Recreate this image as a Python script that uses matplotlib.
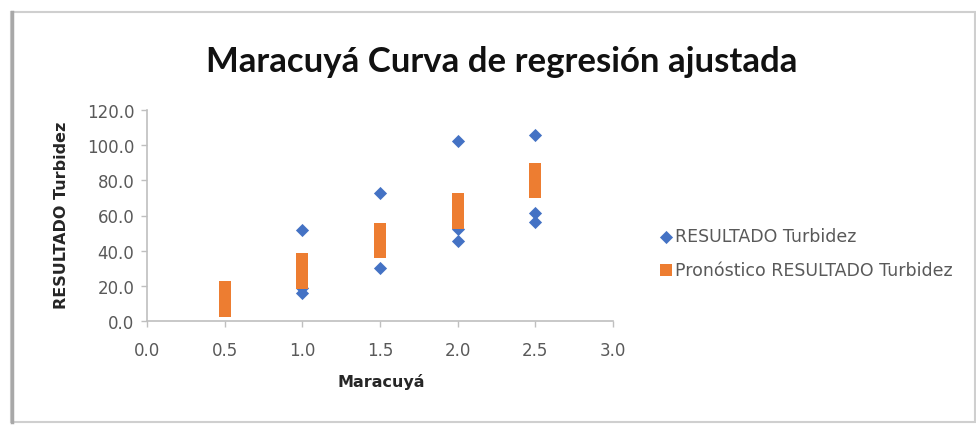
import matplotlib
matplotlib.use("Agg")
import matplotlib.pyplot as plt
from matplotlib.patches import Rectangle

# ---- data ----
obs_x = [1.0, 1.0, 1.0, 1.5, 1.5, 2.0, 2.0, 2.0, 2.5, 2.5, 2.5]
obs_y = [51.6, 16.1, 19.1, 72.9, 30.2, 102.4, 52.4, 45.7, 105.5, 61.4, 56.5]

pred_x = [0.5] * 5 + [1.0] * 5 + [1.5] * 5 + [2.0] * 5 + [2.5] * 5
pred_y = [6.0, 9.3, 12.6, 16.0, 19.3,
          21.9, 25.3, 28.7, 32.1, 35.5,
          39.5, 42.7, 45.8, 49.0, 52.2,
          55.9, 59.2, 62.5, 65.9, 69.2,
          73.5, 76.7, 79.8, 83.0, 86.2]

title = "Maracuyá Curva de regresión ajustada"
xlabel = "Maracuyá"
ylabel = "RESULTADO Turbidez"
label_obs = "RESULTADO Turbidez"
label_pred = "Pronóstico RESULTADO Turbidez"
xticks = [0.0, 0.5, 1.0, 1.5, 2.0, 2.5, 3.0]
yticks = [0, 20, 40, 60, 80, 100, 120]

BLUE = "#4472C4"
ORANGE = "#ED7D31"
GRAY = "#595959"
AXIS = "#BFBFBF"

W, H = 976, 427
fig = plt.figure(figsize=(W / 100, H / 100), dpi=100)
fig.patch.set_facecolor("white")

# chart frame
fig.patches.append(Rectangle((11 / W, 1 - 423 / H), (975 - 11) / W, (423 - 13) / H,
                             transform=fig.transFigure, fill=False,
                             edgecolor="#CFCFCF", linewidth=1.5))
fig.add_artist(plt.Line2D([11.5 / W, 11.5 / W], [1 - 423 / H, 1 - 13 / H],
                          transform=fig.transFigure, color="#A8A8A8", linewidth=2.5))

ax = fig.add_axes([147 / W, 1 - 322.3 / H, (613 - 147) / W, (322.3 - 110.7) / H])
ax.scatter(obs_x, obs_y, marker="D", s=45, color=BLUE, label=label_obs, zorder=3,
           linewidths=0)
ax.scatter(pred_x, pred_y, marker="s", s=80, color=ORANGE, label=label_pred, zorder=4,
           linewidths=0)

ax.set_xlim(0, 3.0)
ax.set_ylim(0, 120)
ax.set_xticks(xticks)
ax.set_yticks(yticks)
ax.set_xticklabels([f"{v:.1f}" for v in xticks])
ax.set_yticklabels([f"{v:.1f}" for v in yticks])
for s in ["top", "right"]:
    ax.spines[s].set_visible(False)
for s in ["left", "bottom"]:
    ax.spines[s].set_color(AXIS)
    ax.spines[s].set_linewidth(1.2)
ax.tick_params(axis="both", colors=AXIS, labelcolor=GRAY, labelsize=12,
               length=4, width=1.0, direction="out")
ax.tick_params(axis="x", pad=10)
ax.tick_params(axis="y", pad=5)

fig.text(502 / W, 1 - 62 / H, title, ha="center", va="center",
         fontsize=25, fontweight="bold", color="#111111", family="Lato")
fig.text(381 / W, 1 - 382 / H, xlabel, ha="center", va="center",
         fontsize=11.5, fontweight="bold", color="#262626")
fig.text(62 / W, 1 - 215 / H, ylabel, ha="center", va="center", rotation=90,
         fontsize=11.5, fontweight="bold", color="#262626")

leg = fig.legend(loc="center left", bbox_to_anchor=(657 / W, 1 - 254 / H),
                 frameon=False, fontsize=12.5, handletextpad=0.05,
                 labelspacing=0.9, handlelength=1.0, borderpad=0,
                 borderaxespad=0)
for t in leg.get_texts():
    t.set_color(GRAY)

fig.savefig("out.png", dpi=100, facecolor="white")
